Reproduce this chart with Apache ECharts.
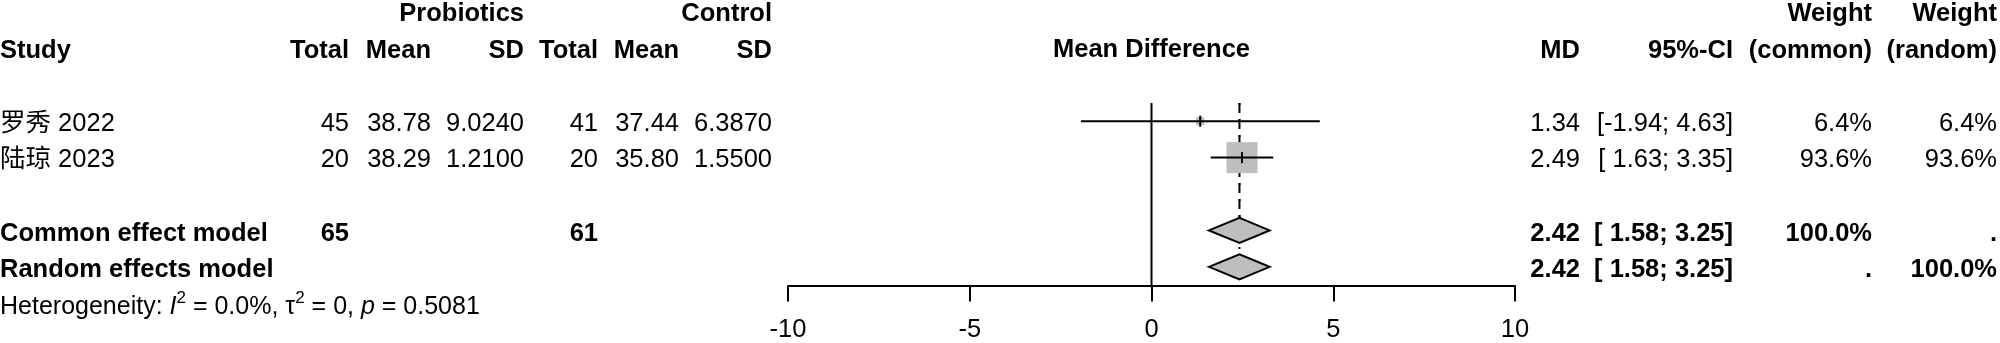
<!DOCTYPE html>
<html>
<head>
<meta charset="utf-8">
<script src="https://cdn.jsdelivr.net/npm/echarts@6/dist/echarts.min.js"></script>
<style>
  html, body { margin: 0; padding: 0; background: #fff; }
  #chart { width: 2000px; height: 343px; }
</style>
</head>
<body>
<div id="chart"></div>
<script>
// ---------------- data ----------------
const studies   = ['罗秀 2022', '陆琼 2023'];
const probTotal = [45, 20];
const probMean  = [38.78, 38.29];
const probSD    = [9.0240, 1.2100];
const ctrlTotal = [41, 20];
const ctrlMean  = [37.44, 35.80];
const ctrlSD    = [6.3870, 1.5500];
const md        = [1.34, 2.49];
const ciLower   = [-1.94, 1.63];
const ciUpper   = [4.63, 3.35];
const wCommon   = [6.4, 93.6];
const wRandom   = [6.4, 93.6];

const pooledNames = ['Common effect model', 'Random effects model'];
const pooledMD    = [2.42, 2.42];
const pooledLower = [1.58, 1.58];
const pooledUpper = [3.25, 3.25];
const pooledTotalProb = 65;
const pooledTotalCtrl = 61;
const pooledWCommon = ['100.0%', '.'];
const pooledWRandom = ['.', '100.0%'];

const hetI2 = '0.0%';
const hetTau2 = '0';
const hetP = '0.5081';

const tickValues = [-10, -5, 0, 5, 10];

// ---------------- layout ----------------
const FONT = "'Liberation Sans', 'Noto Sans CJK SC', Arial, sans-serif";
const FS = 25.5;
const ROW_H = 36.6;
const TOP = 12;
const AXIS_Y = 287;
const Y_MAX = (AXIS_Y - TOP) / ROW_H;
const TEXT_DY = 2;
const COL = { study: 0, pTotal: 349, pMean: 431, pSD: 524, cTotal: 598, cMean: 679, cSD: 772,
              md: 1580, ci: 1733, wC: 1872, wR: 1997 };
const STUDY_ROW0 = 3, POOLED_ROW0 = 6, HET_ROW = 8;
const SQ_MAX = 31;

function fmtCI(lo, hi) {
  const f = v => (v >= 0 ? ' ' : '') + v.toFixed(2);
  return '[' + f(lo) + '; ' + hi.toFixed(2) + ']';
}

// ---------------- text cells ----------------
const cells = [];
function cell(x, row, text, align, bold) { cells.push({ x, row, text: String(text), align, bold }); }

cell(COL.pSD, 0, 'Probiotics', 'right', true);
cell(COL.cSD, 0, 'Control', 'right', true);
cell(COL.wC, 0, 'Weight', 'right', true);
cell(COL.wR, 0, 'Weight', 'right', true);

cell(COL.study, 1, 'Study', 'left', true);
cell(COL.pTotal, 1, 'Total', 'right', true);
cell(COL.pMean, 1, 'Mean', 'right', true);
cell(COL.pSD, 1, 'SD', 'right', true);
cell(COL.cTotal, 1, 'Total', 'right', true);
cell(COL.cMean, 1, 'Mean', 'right', true);
cell(COL.cSD, 1, 'SD', 'right', true);
cell(COL.md, 1, 'MD', 'right', true);
cell(COL.ci, 1, '95%-CI', 'right', true);
cell(COL.wC, 1, '(common)', 'right', true);
cell(COL.wR, 1, '(random)', 'right', true);

studies.forEach((s, i) => {
  const r = STUDY_ROW0 + i;
  cell(COL.study, r, s, 'left', false);
  cell(COL.pTotal, r, probTotal[i], 'right', false);
  cell(COL.pMean, r, probMean[i].toFixed(2), 'right', false);
  cell(COL.pSD, r, probSD[i].toFixed(4), 'right', false);
  cell(COL.cTotal, r, ctrlTotal[i], 'right', false);
  cell(COL.cMean, r, ctrlMean[i].toFixed(2), 'right', false);
  cell(COL.cSD, r, ctrlSD[i].toFixed(4), 'right', false);
  cell(COL.md, r, md[i].toFixed(2), 'right', false);
  cell(COL.ci, r, fmtCI(ciLower[i], ciUpper[i]), 'right', false);
  cell(COL.wC, r, wCommon[i].toFixed(1) + '%', 'right', false);
  cell(COL.wR, r, wRandom[i].toFixed(1) + '%', 'right', false);
});

pooledNames.forEach((s, i) => {
  const r = POOLED_ROW0 + i;
  cell(COL.study, r, s, 'left', true);
  if (i === 0) {
    cell(COL.pTotal, r, pooledTotalProb, 'right', true);
    cell(COL.cTotal, r, pooledTotalCtrl, 'right', true);
  }
  cell(COL.md, r, pooledMD[i].toFixed(2), 'right', true);
  cell(COL.ci, r, fmtCI(pooledLower[i], pooledUpper[i]), 'right', true);
  cell(COL.wC, r, pooledWCommon[i], 'right', true);
  cell(COL.wR, r, pooledWRandom[i], 'right', true);
});

// ---------------- chart ----------------
const chart = echarts.init(document.getElementById('chart'), null, { renderer: 'canvas' });

const studyData = studies.map((s, i) => [md[i], ciLower[i], ciUpper[i], STUDY_ROW0 + i, wCommon[i]]);
const pooledData = pooledNames.map((s, i) => [pooledMD[i], pooledLower[i], pooledUpper[i], POOLED_ROW0 + i]);
const wMax = Math.max.apply(null, wCommon);

const option = {
  animation: false,
  backgroundColor: '#ffffff',
  grid: [
    { left: 788, width: 727, top: TOP, height: AXIS_Y - TOP, containLabel: false },
    { left: 0, width: 2000, top: TOP, height: AXIS_Y - TOP, containLabel: false }
  ],
  xAxis: [
    {
      gridIndex: 0, type: 'value', min: tickValues[0], max: tickValues[tickValues.length - 1],
      interval: tickValues[1] - tickValues[0],
      axisLine: { show: true, onZero: false, lineStyle: { color: '#000', width: 2 } },
      axisTick: { show: true, length: 16, lineStyle: { color: '#000', width: 2 } },
      axisLabel: { show: true, color: '#000', fontSize: FS, fontFamily: FONT, margin: 32 },
      splitLine: { show: false }
    },
    { gridIndex: 1, type: 'value', min: 0, max: 2000, show: false }
  ],
  yAxis: [
    { gridIndex: 0, type: 'value', min: 0, max: Y_MAX, inverse: true, show: false },
    { gridIndex: 1, type: 'value', min: 0, max: Y_MAX, inverse: true, show: false }
  ],
  series: [
    // zero line
    {
      type: 'custom', xAxisIndex: 0, yAxisIndex: 0, clip: false, z: 1,
      data: [[0, STUDY_ROW0 - 0.5, Y_MAX]],
      renderItem: function (params, api) {
        const a = api.coord([api.value(0), api.value(1)]);
        const b = api.coord([api.value(0), api.value(2)]);
        return { type: 'line', shape: { x1: a[0], y1: a[1], x2: b[0], y2: b[1] },
                 style: { stroke: '#000', lineWidth: 2 } };
      }
    },
    // pooled reference lines (common dashed, random dotted)
    {
      type: 'custom', xAxisIndex: 0, yAxisIndex: 0, clip: false, z: 2,
      data: pooledData,
      renderItem: function (params, api) {
        const a = api.coord([api.value(0), STUDY_ROW0 - 0.5]);
        const b = api.coord([api.value(0), api.value(3)]);
        const dash = params.dataIndex === 0 ? [8, 8] : [2, 6];
        return { type: 'line', shape: { x1: a[0], y1: a[1], x2: b[0], y2: b[1] },
                 style: { stroke: '#000', lineWidth: 2, lineDash: dash } };
      }
    },
    // studies: square, CI line, estimate tick
    {
      type: 'custom', xAxisIndex: 0, yAxisIndex: 0, clip: false, z: 3,
      data: studyData,
      renderItem: function (params, api) {
        const c = api.coord([api.value(0), api.value(3)]);
        const l = api.coord([api.value(1), api.value(3)]);
        const h = api.coord([api.value(2), api.value(3)]);
        const size = SQ_MAX * Math.sqrt(api.value(4) / wMax);
        return { type: 'group', children: [
          { type: 'rect', shape: { x: c[0] - size / 2, y: c[1] - size / 2, width: size, height: size },
            style: { fill: '#bebebe' } },
          { type: 'line', shape: { x1: l[0], y1: l[1], x2: h[0], y2: h[1] },
            style: { stroke: '#000', lineWidth: 2 } },
          { type: 'line', shape: { x1: c[0], y1: c[1] - 5.5, x2: c[0], y2: c[1] + 5.5 },
            style: { stroke: '#000', lineWidth: 2 } }
        ] };
      }
    },
    // pooled diamonds
    {
      type: 'custom', xAxisIndex: 0, yAxisIndex: 0, clip: false, z: 4,
      data: pooledData,
      renderItem: function (params, api) {
        const c = api.coord([api.value(0), api.value(3)]);
        const l = api.coord([api.value(1), api.value(3)]);
        const h = api.coord([api.value(2), api.value(3)]);
        const hh = 12.5;
        return { type: 'polygon',
                 shape: { points: [[l[0], l[1]], [c[0], c[1] - hh], [h[0], h[1]], [c[0], c[1] + hh]] },
                 style: { fill: '#bebebe', stroke: '#000', lineWidth: 2 } };
      }
    },
    // "Mean Difference" header centered over plot
    {
      type: 'custom', xAxisIndex: 0, yAxisIndex: 0, clip: false, z: 5,
      data: [[(tickValues[0] + tickValues[tickValues.length - 1]) / 2, 1]],
      renderItem: function (params, api) {
        const p = api.coord([api.value(0), api.value(1)]);
        return { type: 'text', x: p[0], y: p[1] + TEXT_DY,
                 style: { text: 'Mean Difference', fill: '#000', fontSize: FS, fontWeight: 'bold',
                          fontFamily: FONT, align: 'center', verticalAlign: 'middle' } };
      }
    },
    // table text
    {
      type: 'custom', xAxisIndex: 1, yAxisIndex: 1, clip: false, z: 5,
      data: cells.map((c, i) => [c.x, c.row, i]),
      renderItem: function (params, api) {
        const c = cells[api.value(2)];
        const p = api.coord([c.x, c.row]);
        return { type: 'text', x: p[0], y: p[1] + TEXT_DY,
                 style: { text: c.text, fill: '#000', fontSize: FS, fontWeight: c.bold ? 'bold' : 'normal',
                          fontFamily: FONT, align: c.align, verticalAlign: 'middle' } };
      }
    },
    // heterogeneity
    {
      type: 'custom', xAxisIndex: 1, yAxisIndex: 1, clip: false, z: 5,
      data: [[COL.study, HET_ROW]],
      renderItem: function (params, api) {
        const p = api.coord([api.value(0), api.value(1)]);
        return { type: 'text', x: p[0], y: p[1] + TEXT_DY,
                 style: {
                   text: '{n|Heterogeneity: }{i|I}{s|2}{n| = ' + hetI2 + ', τ}{s|2}{n| = ' + hetTau2 +
                         ', }{i|p}{n| = ' + hetP + '}',
                   align: 'left', verticalAlign: 'middle', fill: '#000',
                   rich: {
                     n: { fontSize: 25, fontFamily: FONT, fill: '#000', lineHeight: 34 },
                     i: { fontSize: 25, fontFamily: FONT, fill: '#000', fontStyle: 'italic', lineHeight: 34 },
                     s: { fontSize: 17, fontFamily: FONT, fill: '#000', lineHeight: 17, verticalAlign: 'top' }
                   }
                 } };
      }
    }
  ]
};

chart.setOption(option);
</script>
</body>
</html>
